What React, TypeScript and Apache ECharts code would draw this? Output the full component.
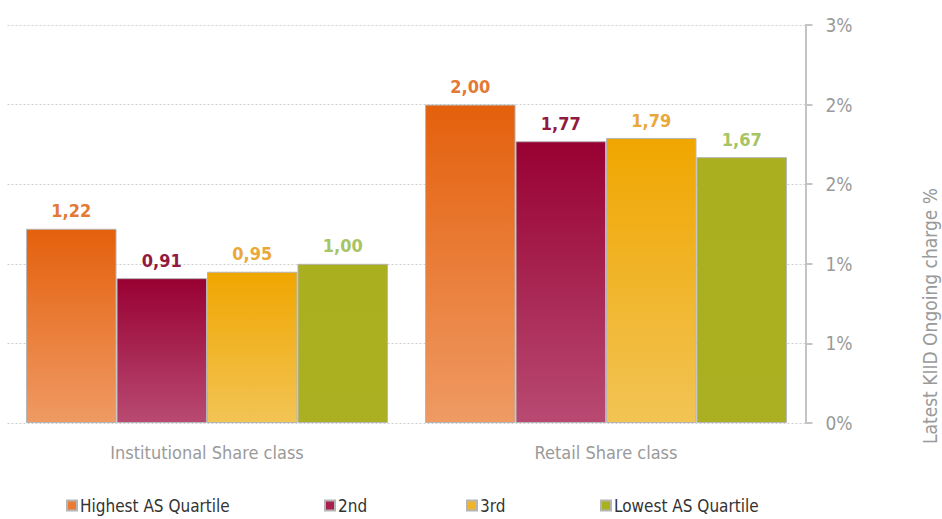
import React, { useEffect, useRef } from "react";
import * as echarts from "echarts";

const categories = ["Institutional Share class", "Retail Share class"];
const seriesNames = ["Highest AS Quartile", "2nd", "3rd", "Lowest AS Quartile"];
const highest = [1.22, 2.0];
const second = [0.91, 1.77];
const third = [0.95, 1.79];
const lowest = [1.0, 1.67];
const axisTitle = "Latest KIID Ongoing charge %";

const FONT = "'DejaVu Sans Condensed', 'Liberation Sans Narrow', 'Roboto', sans-serif";

const gradients = [
  ["#E4600C", "#EF9A64"],
  ["#980032", "#B84A72"],
  ["#F0A600", "#F2C454"],
  ["#A9AF1E", "#ABB022"],
];
const labelColors = ["#E27A36", "#921940", "#EAA83A", "#A6C464"];
const legendColors = ["#EB7A35", "#A8204F", "#F1B52C", "#A9B11F"];
const legendLefts = [66, 324, 466, 600];

export default function App() {
  const ref = useRef<HTMLDivElement>(null);
  useEffect(() => {
    if (!ref.current) return;
    const chart = echarts.init(ref.current, undefined, { renderer: "svg" });
    const values = [highest, second, third, lowest];
    const series = values.map((vals, i) => ({
      name: seriesNames[i],
      type: "bar",
      data: vals,
      barGap: "0%",
      barCategoryGap: "9.3%",
      itemStyle: {
        color: new echarts.graphic.LinearGradient(0, 0, 0, 1, [
          { offset: 0, color: gradients[i][0] },
          { offset: 1, color: gradients[i][1] },
        ]),
        borderColor: "#b5b5b5",
        borderWidth: 1,
      },
      label: {
        show: true,
        position: "top",
        distance: 9,
        color: labelColors[i],
        fontFamily: FONT,
        fontWeight: "bold",
        fontSize: 18,
        formatter: (p: any) => Number(p.value).toFixed(2).replace(".", ","),
      },
    }));
    const legends = seriesNames.map((n, i) => ({
      data: [{ name: n, itemStyle: { color: legendColors[i] } }],
      left: legendLefts[i],
      top: 497,
      padding: 0,
      itemWidth: 10,
      itemHeight: 10,
      itemGap: 4,
      icon: "rect",
      textStyle: { fontFamily: FONT, fontSize: 17, color: "#333", padding: [0, 0, 0, -2] },
      selectedMode: false,
    }));
    chart.setOption({
      animation: false,
      backgroundColor: "#ffffff",
      legend: legends,
      grid: { left: 7.5, right: 136.5, top: 25, bottom: 96, containLabel: false },
      xAxis: {
        type: "category",
        data: categories,
        axisLine: { show: false },
        axisTick: { show: false },
        axisLabel: { fontFamily: FONT, fontSize: 18, color: "#9a9a9a", margin: 20 },
      },
      yAxis: {
        type: "value",
        position: "right",
        min: 0,
        max: 2.5,
        interval: 0.5,
        axisLine: { show: true, lineStyle: { color: "#c4c4c4", width: 2 } },
        axisTick: { show: true, length: 7, lineStyle: { color: "#c4c4c4", width: 2 } },
        axisLabel: {
          margin: 20,
          fontFamily: FONT,
          fontSize: 19,
          color: "#9a9a9a",
          formatter: (v: number) => Math.round(v) + "%",
        },
        splitLine: { show: true, lineStyle: { color: "#cfcfcf", type: [2, 2], width: 1 } },
      },
      graphic: [
        {
          type: "text",
          x: 930,
          y: 316,
          rotation: Math.PI / 2,
          style: {
            text: axisTitle,
            fontFamily: FONT,
            fontSize: 19,
            fill: "#9a9a9a",
            align: "center",
            verticalAlign: "middle",
          },
        },
      ],
      series,
    });
    return () => chart.dispose();
  }, []);
  return (
    <div
      ref={ref}
      style={{ position: "fixed", left: 0, top: 0, width: 942, height: 519, background: "#fff" }}
    />
  );
}
